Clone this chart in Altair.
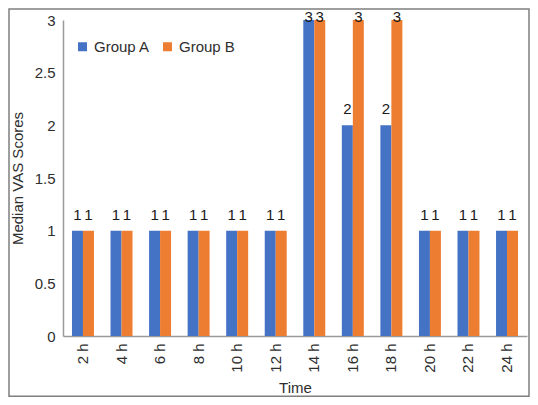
import altair as alt
import pandas as pd

times = ["2 h", "4 h", "6 h", "8 h", "10 h", "12 h", "14 h", "16 h", "18 h", "20 h", "22 h", "24 h"]
group_a = [1, 1, 1, 1, 1, 1, 3, 2, 2, 1, 1, 1]
group_b = [1, 1, 1, 1, 1, 1, 3, 3, 3, 1, 1, 1]
groups = ["Group A", "Group B"]
colors = ["#4472C4", "#ED7D31"]

rows = []
for t, a, b in zip(times, group_a, group_b):
    rows.append({"Time": t, "Group": groups[0], "Value": a})
    rows.append({"Time": t, "Group": groups[1], "Value": b})
df = pd.DataFrame(rows)

FONT = "Liberation Sans"
TXT = "#2e2e2e"
AX = "#9a9a9a"

W, H = 464, 316

base = alt.Chart(df)

xenc = alt.X(
    "Time:N",
    sort=times,
    scale=alt.Scale(paddingInner=0.43, paddingOuter=0.233),
    axis=alt.Axis(
        title="Time",
        labelAngle=270,
        ticks=False,
        labelPadding=7,
        titlePadding=8,
        domainColor=AX,
        domainWidth=1.5,
    ),
)
yscale = alt.Scale(domain=[0, 3], nice=False)

bars = base.mark_bar().encode(
    x=xenc,
    xOffset=alt.XOffset("Group:N", sort=groups),
    y=alt.Y(
        "Value:Q",
        scale=yscale,
        axis=alt.Axis(
            title="Median VAS Scores",
            values=[0, 0.5, 1, 1.5, 2, 2.5, 3],
            format="~g",
            grid=False,
            ticks=False,
            labelPadding=8,
            domainColor=AX,
            domainWidth=1.5,
            titleX=-46,
            titleY=158,
            titleAngle=270,
            titleAlign="center",
            titleBaseline="middle",
        ),
    ),
    color=alt.Color(
        "Group:N",
        sort=groups,
        scale=alt.Scale(domain=groups, range=colors),
        legend=alt.Legend(
            title=None,
            orient="none",
            legendX=12,
            legendY=19,
            direction="horizontal",
            symbolType="square",
            symbolSize=81,
            symbolStrokeWidth=0,
            labelOffset=4,
            columnPadding=10,
            padding=0,
        ),
    ),
)

labels = base.transform_calculate(
    LabelY="min(datum.Value + 0.104, 2.985)"
).mark_text(baseline="alphabetic", fontSize=15, font=FONT, color="#1a1a1a").encode(
    x=alt.X("Time:N", sort=times),
    xOffset=alt.XOffset("Group:N", sort=groups),
    y=alt.Y("LabelY:Q", scale=yscale),
    text=alt.Text("Value:Q"),
)

border = alt.Chart(pd.DataFrame({"b": [0]})).mark_rect(
    fill=None, stroke="#7f7f7f", strokeWidth=1.5
).encode(
    x=alt.value(-54),
    x2=alt.value(W + 2),
    y=alt.value(-11),
    y2=alt.value(H + 60.2),
)

chart = (
    alt.layer(bars, labels, border)
    .properties(
        width=W,
        height=H,
        autosize=alt.AutoSizeParams(type="none"),
        padding={"left": 55, "top": 12, "right": 3, "bottom": 61},
    )
    .configure_view(stroke=None)
    .configure_axis(
        labelFont=FONT,
        titleFont=FONT,
        labelFontSize=15,
        titleFontSize=15,
        labelColor=TXT,
        titleColor=TXT,
        titleFontWeight="normal",
    )
    .configure_legend(labelFont=FONT, labelFontSize=15, labelColor=TXT)
)

chart.save("out.html", embed_options={"renderer": "svg", "actions": False})
